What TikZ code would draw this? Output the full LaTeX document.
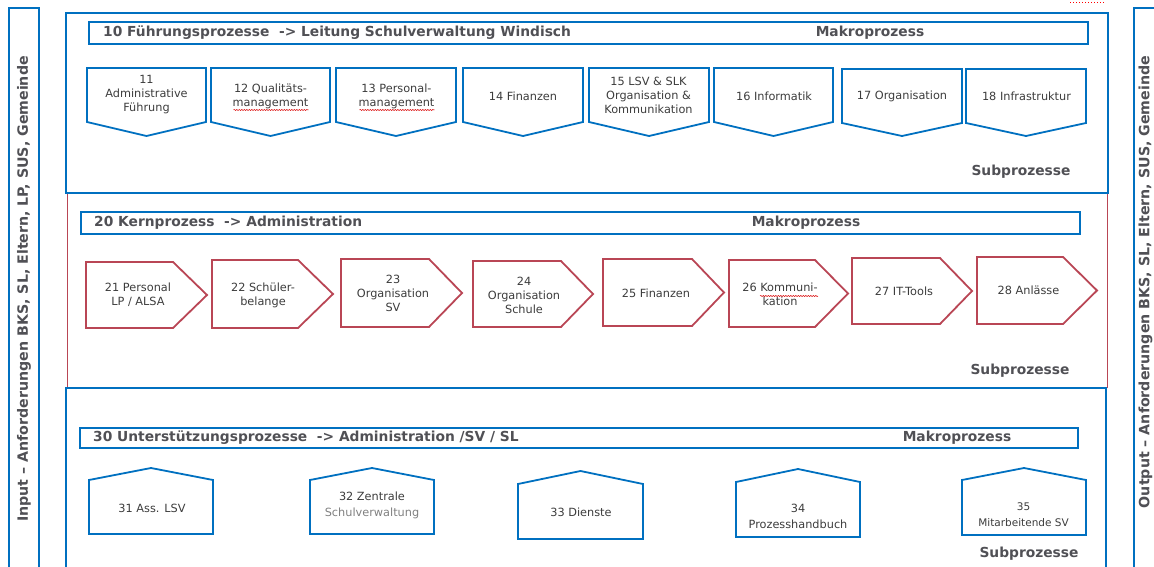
\documentclass[tikz,border=0pt]{standalone}
\usepackage{fontspec}
\setmainfont{DejaVu Sans}
\usetikzlibrary{decorations.pathmorphing}
\definecolor{procblue}{RGB}{0,112,192}
\definecolor{procred}{RGB}{185,70,85}
\definecolor{txtgray}{RGB}{60,60,60}
\definecolor{headgray}{RGB}{80,80,85}

\begin{document}
\begin{tikzpicture}[x=1pt,y=-1pt,line join=miter,
  blueline/.style={draw=procblue,line width=1.8pt},
  redline/.style={draw=procred,line width=1.8pt},
  thinred/.style={draw=procred,line width=0.8pt},
  boxtext/.style={text=txtgray,align=center,inner sep=0pt,font=\fontsize{11.3}{14}\selectfont},
  housetext/.style={text=txtgray,align=center,inner sep=0pt,font=\fontsize{11.3}{15.5}\selectfont},
  headtext/.style={text=headgray,inner sep=0pt,font=\fontsize{13.8}{15}\bfseries\selectfont},
  sidetext/.style={text=headgray,inner sep=0pt,rotate=90,font=\fontsize{14.2}{15}\bfseries\selectfont},
  squiggle/.style={draw=red!85!black,line width=0.5pt,decorate,decoration={snake,segment length=2.5pt,amplitude=0.6pt}}]
\useasboundingbox (0,0) rectangle (1154,567);

\draw[blueline] (9,570) -- (9,8) -- (39,8) -- (39,570);
\node[sidetext] (input) at (24,289) {Input – Anforderungen BKS, SL, Eltern, LP, SUS, Gemeinde};
\draw[blueline] (1134,570) -- (1134,8) -- (1160,8);
\node[sidetext] (output) at (1145.5,282) {Output – Anforderungen BKS, SL, Eltern, SUS, Gemeinde};
\draw[red,line width=1pt,dotted] (1070,3) -- (1106,3);

\draw[thinred] (67,193) -- (67,388);
\draw[thinred] (1107,193) -- (1107,388);
\draw[blueline] (66,13) rectangle (1108,193);
\draw[blueline] (66,570) -- (66,388) -- (1106,388) -- (1106,570);

\draw[blueline] (89,22) rectangle (1088,44);
\node[headtext,anchor=west] (fuehrung) at (103,33) {10 Führungsprozesse~ -> Leitung Schulverwaltung Windisch};
\node[headtext] (makro1) at (870,33) {Makroprozess};
\node[headtext] (sub1) at (1021,172) {Subprozesse};

\draw[blueline] (87,68) -- (206,68) -- (206,122) -- (146.5,136) -- (87,122) -- cycle;
\node[boxtext] (p11) at (146.5,95) {11\\Administrative\\Führung};
\draw[blueline] (211,68) -- (330,68) -- (330,122) -- (270.5,136) -- (211,122) -- cycle;
\node[boxtext] (p12) at (270.5,96) {12 Qualitäts-\\management};
\draw[blueline] (336,68) -- (456,68) -- (456,122) -- (396,136) -- (336,122) -- cycle;
\node[boxtext] (p13) at (396.5,96) {13 Personal-\\management};
\draw[blueline] (463,68) -- (583,68) -- (583,122) -- (523,136) -- (463,122) -- cycle;
\node[boxtext] (p14) at (523,96) {14 Finanzen};
\draw[blueline] (589,68) -- (709,68) -- (709,122) -- (649,136) -- (589,122) -- cycle;
\node[boxtext] (p15) at (648.5,95) {15 LSV \& SLK\\Organisation \&\\Kommunikation};
\draw[blueline] (714,68) -- (833,68) -- (833,122) -- (773.5,136) -- (714,122) -- cycle;
\node[boxtext] (p16) at (774,96) {16 Informatik};
\draw[blueline] (842,69) -- (962,69) -- (962,123) -- (902,136) -- (842,123) -- cycle;
\node[boxtext] (p17) at (902,96) {17 Organisation};
\draw[blueline] (966,69) -- (1086,69) -- (1086,123) -- (1026,136) -- (966,123) -- cycle;
\node[boxtext] (p18) at (1026.5,96) {18 Infrastruktur};
\draw[squiggle] (p12) ++(-37,14) -- ++(75,0);
\draw[squiggle] (p13) ++(-37,14) -- ++(75,0);

\draw[blueline] (81,212) rectangle (1080,234);
\node[headtext,anchor=west] (kern) at (94,223) {20 Kernprozess~ -> Administration};
\node[headtext] (makro2) at (806,223) {Makroprozess};
\node[headtext] (sub2) at (1020,371) {Subprozesse};

\draw[redline] (86,262) -- (173,262) -- (207,295) -- (173,328) -- (86,328) -- cycle;
\node[boxtext] (p21) at (138,295) {21 Personal\\LP / ALSA};
\draw[redline] (212,260) -- (298,260) -- (333,294) -- (298,328) -- (212,328) -- cycle;
\node[boxtext] (p22) at (263,295) {22 Schüler-\\belange};
\draw[redline] (341,259) -- (429,259) -- (462,293) -- (429,327) -- (341,327) -- cycle;
\node[boxtext] (p23) at (393,293) {23\\Organisation\\SV};
\draw[redline] (473,261) -- (561,261) -- (593,294) -- (561,327) -- (473,327) -- cycle;
\node[boxtext] (p24) at (524,295) {24\\Organisation\\Schule};
\draw[redline] (603,259) -- (692,259) -- (724,292.5) -- (692,326) -- (603,326) -- cycle;
\node[boxtext] (p25) at (656,293) {25 Finanzen};
\draw[redline] (729,260) -- (815,260) -- (848,293.5) -- (815,327) -- (729,327) -- cycle;
\node[boxtext] (p26) at (780,294) {26 Kommuni-\\kation};
\draw[redline] (852,258) -- (940,258) -- (972,291) -- (940,324) -- (852,324) -- cycle;
\node[boxtext] (p27) at (904,291) {27 IT-Tools};
\draw[redline] (977,257) -- (1063,257) -- (1097,290.5) -- (1063,324) -- (977,324) -- cycle;
\node[boxtext] (p28) at (1028.5,290) {28 Anlässe};
\draw[squiggle] (p26) ++(-20,2) -- ++(58,0);

\draw[blueline] (80,428) rectangle (1078,448);
\node[headtext,anchor=west] (unterst) at (93,438) {30 Unterstützungsprozesse~ -> Administration /SV / SL};
\node[headtext] (makro3) at (957,438) {Makroprozess};
\node[headtext] (sub3) at (1029,554) {Subprozesse};

\draw[blueline] (89,534) -- (89,480) -- (151,468) -- (213,480) -- (213,534) -- cycle;
\node[housetext] (p31) at (152,508) {31 Ass. LSV};
\draw[blueline] (310,534) -- (310,480) -- (372,468) -- (434,480) -- (434,534) -- cycle;
\node[housetext] (p32) at (372,505.5) {32 Zentrale\\\textcolor{gray}{Schulverwaltung}};
\draw[blueline] (518,539) -- (518,484) -- (580.5,471) -- (643,484) -- (643,539) -- cycle;
\node[housetext] (p33) at (581,512) {33 Dienste};
\draw[blueline] (736,537) -- (736,482) -- (798,469) -- (860,482) -- (860,537) -- cycle;
\node[housetext,font=\fontsize{11.3}{16}\selectfont] (p34) at (798,516) {34\\Prozesshandbuch};
\draw[blueline] (962,535) -- (962,480) -- (1024,468) -- (1086,480) -- (1086,535) -- cycle;
\node[housetext,font=\fontsize{10.5}{16}\selectfont] (p35) at (1023.5,515) {35\\Mitarbeitende SV};
\end{tikzpicture}
\end{document}
